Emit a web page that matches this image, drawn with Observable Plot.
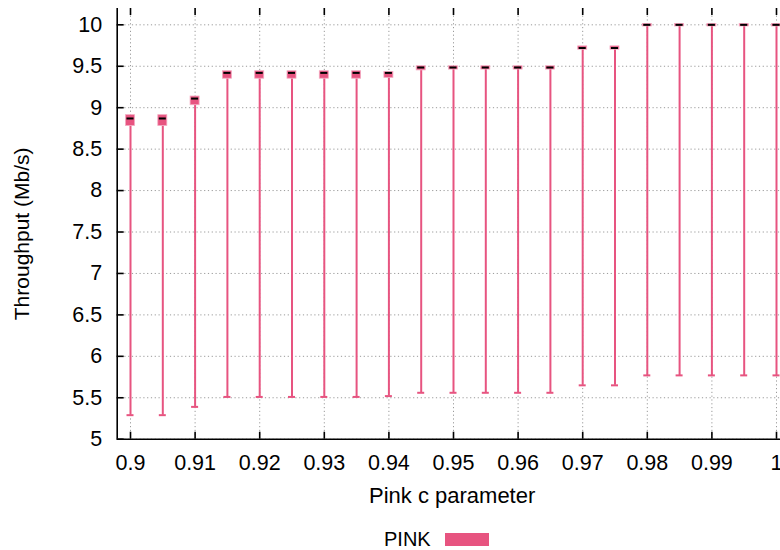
<!DOCTYPE html>
<html>
<head>
<meta charset="utf-8">
<script src="https://cdn.jsdelivr.net/npm/d3@7"></script>
<script src="https://cdn.jsdelivr.net/npm/@observablehq/plot@0.6"></script>
<style>
  body { margin: 0; background: #fff; width: 780px; height: 550px; overflow: hidden; position: relative; font-family: "Liberation Sans", Arial, sans-serif; }
  #legend { position: absolute; left: 384px; top: 529px; display: flex; align-items: center; font-size: 20px; line-height: 20px; color: #000; }
  #legend .sw { width: 44px; height: 13px; margin-left: 14px; }
</style>
</head>
<body>
<div id="chart"></div>
<div id="legend"><span>PINK</span><span class="sw" id="sw"></span></div>
<script>
const pink = "#e75480";
const xs = [0.9, 0.905, 0.91, 0.915, 0.92, 0.925, 0.93, 0.935, 0.94, 0.945, 0.95, 0.955, 0.96, 0.965, 0.97, 0.975, 0.98, 0.985, 0.99, 0.995, 1.0];
const lows = [5.29, 5.29, 5.39, 5.51, 5.51, 5.51, 5.51, 5.51, 5.52, 5.56, 5.56, 5.56, 5.56, 5.56, 5.65, 5.65, 5.77, 5.77, 5.77, 5.77, 5.77];
const boxLows = [8.78, 8.78, 9.03, 9.35, 9.35, 9.35, 9.35, 9.35, 9.36, 9.45, 9.46, 9.46, 9.46, 9.46, 9.70, 9.70, 9.98, 9.98, 9.98, 9.98, 9.98];
const boxHighs = [8.91, 8.91, 9.135, 9.44, 9.44, 9.44, 9.44, 9.44, 9.43, 9.50, 9.50, 9.50, 9.50, 9.50, 9.74, 9.74, 10.01, 10.01, 10.01, 10.01, 10.01];
const medians = [8.87, 8.87, 9.11, 9.42, 9.42, 9.42, 9.42, 9.42, 9.42, 9.485, 9.485, 9.485, 9.485, 9.485, 9.72, 9.72, 10.0, 10.0, 10.0, 10.0, 10.0];
const xTicks = [0.9, 0.91, 0.92, 0.93, 0.94, 0.95, 0.96, 0.97, 0.98, 0.99, 1.0];
const yTicks = [5, 5.5, 6, 6.5, 7, 7.5, 8, 8.5, 9, 9.5, 10];
const xDomain = [0.89794, 1.00062];
const yDomain = [5, 10.197];

const data = xs.map((x, i) => ({x, low: lows[i], lo: boxLows[i], hi: boxHighs[i], med: medians[i]}));

const W = 780, H = 520, mL = 116.7, mR = 0, mT = 8, mB = 81.3;
const pw = W - mL - mR, ph = H - mT - mB;
const gridStyle = {stroke: "#9a9a9a", strokeWidth: 1, strokeDasharray: "1.2,2.6"};

const chart = Plot.plot({
  width: W, height: H,
  marginLeft: mL, marginRight: mR, marginTop: mT, marginBottom: mB,
  x: {domain: xDomain},
  y: {domain: yDomain},
  style: {fontFamily: "Liberation Sans, Arial, sans-serif", fontSize: "21px", color: "#000", background: "#fff", overflow: "visible"},
  marks: [
    Plot.ruleY(yTicks, {y: d => d, ...gridStyle}),
    Plot.ruleX(xTicks, {x: d => d, ...gridStyle}),
    // whiskers
    Plot.ruleX(data, {x: "x", y1: "low", y2: "lo", stroke: pink, strokeWidth: 2}),
    Plot.ruleY(data, {y: "low", x1: "x", x2: "x", insetLeft: -3.5, insetRight: -3.5, stroke: pink, strokeWidth: 2}),
    // boxes
    Plot.rect(data, {x1: "x", x2: "x", y1: "lo", y2: "hi", insetLeft: -4.5, insetRight: -4.5, fill: pink, stroke: "#f3a9c0", strokeWidth: 0.8}),
    // medians
    Plot.ruleY(data, {y: "med", x1: "x", x2: "x", insetLeft: -3.5, insetRight: -3.5, stroke: "#000", strokeWidth: 2}),
    // axis lines
    Plot.ruleX([xDomain[0]], {stroke: "#000", strokeWidth: 1.6}),
    Plot.ruleY([yDomain[0]], {stroke: "#000", strokeWidth: 1.6}),
    // inward ticks
    Plot.tickY(yTicks, {y: d => d, insetRight: pw - 7, stroke: "#000", strokeWidth: 1.6}),
    Plot.tickX(xTicks, {x: d => d, insetTop: ph - 7, stroke: "#000", strokeWidth: 1.6}),
    Plot.tickX(xTicks, {x: d => d, insetBottom: ph - 7, stroke: "#000", strokeWidth: 1.6}),
    // tick labels
    Plot.axisX(xTicks, {anchor: "bottom", tickSize: 0, tickPadding: 16, tickFormat: d => String(d), label: null, fontSize: 21.5}),
    Plot.axisY(yTicks, {anchor: "left", tickSize: 0, tickPadding: 15, tickFormat: d => String(d), label: null, fontSize: 21.5}),
    // axis titles
    Plot.text(["Throughput (Mb/s)"], {text: d => d, frameAnchor: "left", textAnchor: "middle", lineAnchor: "middle", rotate: -90, dx: -95, dy: 10, fontSize: 21}),
    Plot.text(["Pink c parameter"], {text: d => d, frameAnchor: "bottom", textAnchor: "middle", lineAnchor: "middle", dx: 3.3, dy: 57, fontSize: 22})
  ]
});
document.getElementById("chart").appendChild(chart);
document.getElementById("sw").style.background = pink;
</script>
</body>
</html>
